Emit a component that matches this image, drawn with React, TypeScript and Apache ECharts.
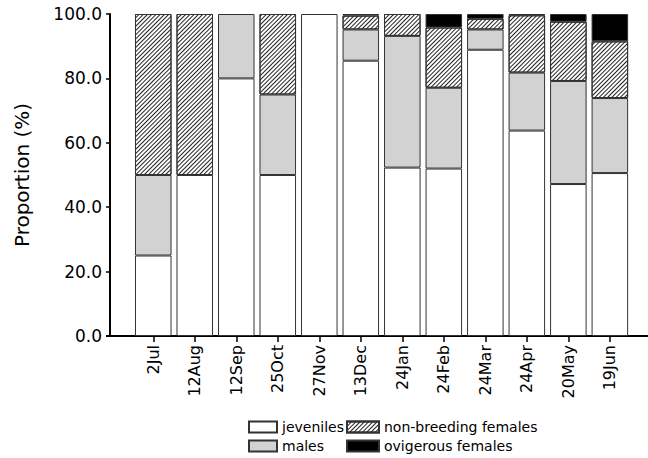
import React, { useEffect, useRef } from "react";
import * as echarts from "echarts";

const categories = ["2Jul", "12Aug", "12Sep", "25Oct", "27Nov", "13Dec", "24Jan", "24Feb", "24Mar", "24Apr", "20May", "19Jun"];
const juveniles = [25, 50, 80, 50, 100, 85.5, 52.3, 52.0, 88.9, 63.8, 47.2, 50.6];
const males = [25, null, 20, 25, null, 9.7, 40.9, 25.1, 6.3, 18.0, 32.0, 23.3];
const nonBreeding = [50, 50, null, 25, null, 4.3, 6.8, 18.7, 3.3, 17.8, 18.4, 17.6];
const ovigerous = [null, null, null, null, null, 0.5, null, 4.2, 1.5, 0.4, 2.4, 8.5];
const yTicks = { min: 0, max: 100, interval: 20 };

const FONT = "DejaVu Sans";

export default function App() {
  const ref = useRef<HTMLDivElement>(null);
  useEffect(() => {
    if (!ref.current) return;
    const chart = echarts.init(ref.current, null, { renderer: "svg" });
    const border = { borderColor: "#333", borderWidth: 1 };
    const mk = (name: string, data: any[], itemStyle: any) => ({
      name,
      type: "bar",
      stack: "total",
      data,
      barCategoryGap: "12%",
      itemStyle: { ...border, ...itemStyle },
    });
    const legendBase = {
      orient: "vertical",
      top: 420,
      height: 38,
      padding: 0,
      itemHeight: 11,
      itemGap: 5,
      icon: "rect",
      textStyle: { color: "#000", fontSize: 14, fontFamily: FONT, lineHeight: 14 },
    };
    chart.setOption({
      animation: false,
      textStyle: { fontFamily: FONT },
      grid: { left: 132.5, right: 17.4, top: 14, bottom: 122, containLabel: false },
      xAxis: {
        type: "category",
        data: categories,
        axisLine: { show: false },
        axisTick: { show: true, alignWithLabel: true, length: 6, lineStyle: { color: "#000", width: 1.5 } },
        axisLabel: { rotate: 90, margin: 9, color: "#000", fontSize: 16, fontFamily: FONT },
      },
      yAxis: {
        type: "value",
        min: yTicks.min,
        max: yTicks.max,
        interval: yTicks.interval,
        offset: 22.5,
        splitLine: { show: false },
        axisLine: { show: true, lineStyle: { color: "#000", width: 2 } },
        axisTick: { show: true, length: 4, lineStyle: { color: "#000", width: 1.5 } },
        axisLabel: { margin: 8, color: "#000", fontSize: 17, fontFamily: FONT, formatter: (v: number) => v.toFixed(1) },
        name: "Proportion (%)",
        nameLocation: "middle",
        nameRotate: 90,
        nameGap: 78,
        nameTextStyle: { color: "#000", fontSize: 20, fontFamily: FONT },
      },
      legend: [
        { ...legendBase, left: 248, itemWidth: 28, data: ["jeveniles", "males"] },
        { ...legendBase, left: 346, itemWidth: 32, data: ["non-breeding females", "ovigerous females"] },
      ],
      graphic: [
        {
          type: "line",
          shape: { x1: 106, y1: 336, x2: 648, y2: 336 },
          style: { stroke: "#000", lineWidth: 2 },
          silent: true,
        },
      ],
      series: [
        mk("jeveniles", juveniles, { color: "#fff" }),
        mk("males", males, { color: "#d2d2d2" }),
        mk("non-breeding females", nonBreeding, {
          color: "#fff",
          decal: {
            symbol: "rect",
            symbolSize: 1,
            color: "#222",
            backgroundColor: "#fff",
            dashArrayX: [1, 0],
            dashArrayY: [1, 2],
            rotation: -Math.PI / 4,
          },
        }),
        mk("ovigerous females", ovigerous, { color: "#000" }),
      ],
    });
    return () => chart.dispose();
  }, []);
  return <div ref={ref} style={{ position: "absolute", left: 0, top: 0, width: 648, height: 458 }} />;
}
